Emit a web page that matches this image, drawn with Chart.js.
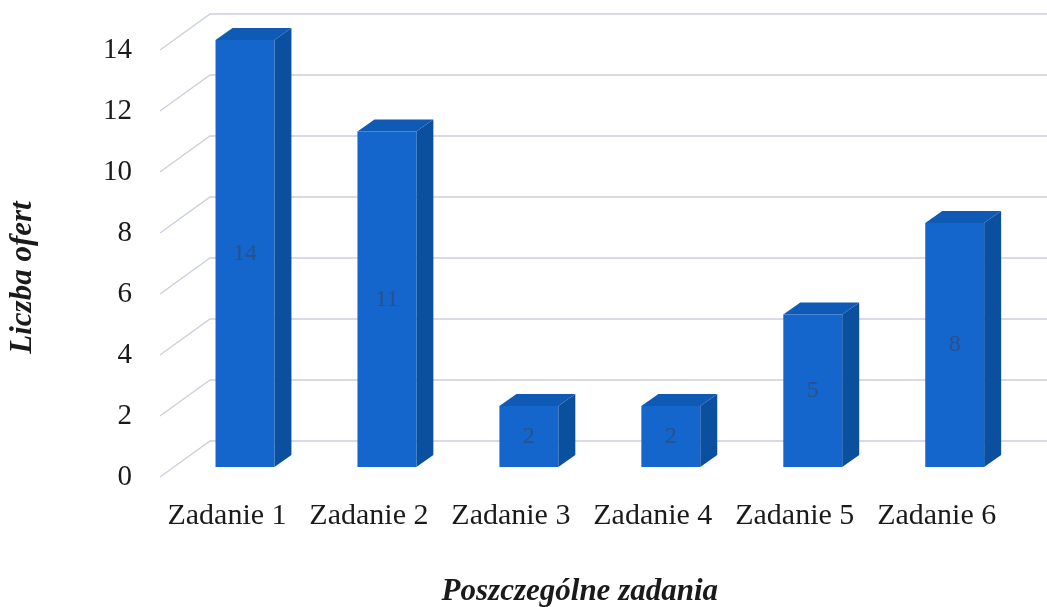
<!DOCTYPE html>
<html>
<head>
<meta charset="utf-8">
<script src="https://cdn.jsdelivr.net/npm/chart.js@4.4.1/dist/chart.umd.min.js"></script>
<style>
  html, body { margin: 0; padding: 0; background: #fff; }
  #wrap { width: 1047px; height: 607px; }
</style>
</head>
<body>
<div id="wrap"><canvas id="ofertyChart" width="1047" height="607"></canvas></div>
<script>
const categories = ['Zadanie 1', 'Zadanie 2', 'Zadanie 3', 'Zadanie 4', 'Zadanie 5', 'Zadanie 6'];
const offerCounts = [14, 11, 2, 2, 5, 8];
const yTicks = [0, 2, 4, 6, 8, 10, 12, 14];
const xTitle = 'Poszczególne zadania';
const yTitle = 'Liczba ofert';

const serif = '"Liberation Serif", "Times New Roman", serif';
const frontColor = '#1466cc';
const sideColor = '#0b4f9f';
const topColor = '#0f5ab4';
const gridColor = '#cbd0dc';

// fake 3d: how far the bar depth / back wall / left wall edge are shifted
const DEPTH_X = 17, DEPTH_Y = 12;
const WALL_X = 36, WALL_Y = 26;
const SIDE_X = 14, SIDE_Y = 10;

const box3d = {
    id: 'box3d',
    beforeDatasetsDraw(chart) {
        const {ctx, chartArea, scales: {y}} = chart;
        ctx.save();

        // back wall + left wall lines
        ctx.strokeStyle = gridColor;
        ctx.lineWidth = 1.4;
        yTicks.forEach(v => {
            const py = y.getPixelForValue(v);
            ctx.beginPath();
            ctx.moveTo(chartArea.left - SIDE_X, py + SIDE_Y);
            ctx.lineTo(chartArea.left + WALL_X, py - WALL_Y);
            ctx.lineTo(chart.width, py - WALL_Y);
            ctx.stroke();
        });

        // side and top faces of each bar
        chart.getDatasetMeta(0).data.forEach(bar => {
            const {x, y: top, base, width} = bar.getProps(['x', 'y', 'base', 'width'], true);
            const l = x - width / 2, r = x + width / 2;

            ctx.fillStyle = sideColor;
            ctx.beginPath();
            ctx.moveTo(r, top);
            ctx.lineTo(r + DEPTH_X, top - DEPTH_Y);
            ctx.lineTo(r + DEPTH_X, base - DEPTH_Y);
            ctx.lineTo(r, base);
            ctx.closePath();
            ctx.fill();

            ctx.fillStyle = topColor;
            ctx.beginPath();
            ctx.moveTo(l, top);
            ctx.lineTo(l + DEPTH_X, top - DEPTH_Y);
            ctx.lineTo(r + DEPTH_X, top - DEPTH_Y);
            ctx.lineTo(r, top);
            ctx.closePath();
            ctx.fill();
        });
        ctx.restore();
    },
    afterDatasetsDraw(chart) {
        const {ctx} = chart;
        ctx.save();
        ctx.font = '24px ' + serif;
        ctx.fillStyle = 'rgba(55, 65, 85, 0.55)';
        ctx.textAlign = 'center';
        ctx.textBaseline = 'middle';
        chart.getDatasetMeta(0).data.forEach((bar, i) => {
            const {x, y: top, base} = bar.getProps(['x', 'y', 'base'], true);
            ctx.fillText(offerCounts[i], x, (top + base) / 2);
        });
        ctx.restore();
    },
    afterDraw(chart) {
        // axis titles sit a bit off-centre in the original (3d floor shift)
        const {ctx, chartArea} = chart;
        ctx.save();
        ctx.font = 'italic bold 31px ' + serif;
        ctx.fillStyle = '#1a1a1a';
        ctx.textAlign = 'center';
        ctx.textBaseline = 'middle';
        ctx.fillText(xTitle, (chartArea.left + chartArea.right) / 2 - 20, 592);
        ctx.translate(23, (chartArea.top + chartArea.bottom) / 2 + 24);
        ctx.rotate(-Math.PI / 2);
        ctx.fillText(yTitle, 0, 0);
        ctx.restore();
    }
};

new Chart(document.getElementById('ofertyChart'), {
    type: 'bar',
    data: {
        labels: categories,
        datasets: [{
            data: offerCounts,
            backgroundColor: frontColor,
            borderWidth: 0,
            barPercentage: 0.415,
            categoryPercentage: 1
        }]
    },
    options: {
        responsive: false,
        animation: false,
        layout: { padding: { left: 8, top: 40, right: 21, bottom: 0 } },
        plugins: {
            legend: { display: false },
            tooltip: { enabled: false }
        },
        scales: {
            x: {
                grid: { display: false, drawTicks: false },
                border: { display: false },
                ticks: {
                    color: '#1a1a1a',
                    font: { family: serif, size: 30 },
                    padding: 31,
                    labelOffset: -18,
                    maxRotation: 0,
                    autoSkip: false
                },
                afterFit(scale) { scale.height = 140; }
            },
            y: {
                min: 0,
                max: 14,
                afterBuildTicks(scale) { scale.ticks = yTicks.map(v => ({ value: v })); },
                // invisible tick marks just push the labels away from the bars
                grid: { display: false, drawTicks: true, tickLength: 39 },
                border: { display: false },
                ticks: {
                    color: '#1a1a1a',
                    font: { family: serif, size: 29 },
                    padding: 3,
                    labelOffset: 10
                },
                afterFit(scale) { scale.width = 166; }
            }
        }
    },
    plugins: [box3d]
});
</script>
</body>
</html>
